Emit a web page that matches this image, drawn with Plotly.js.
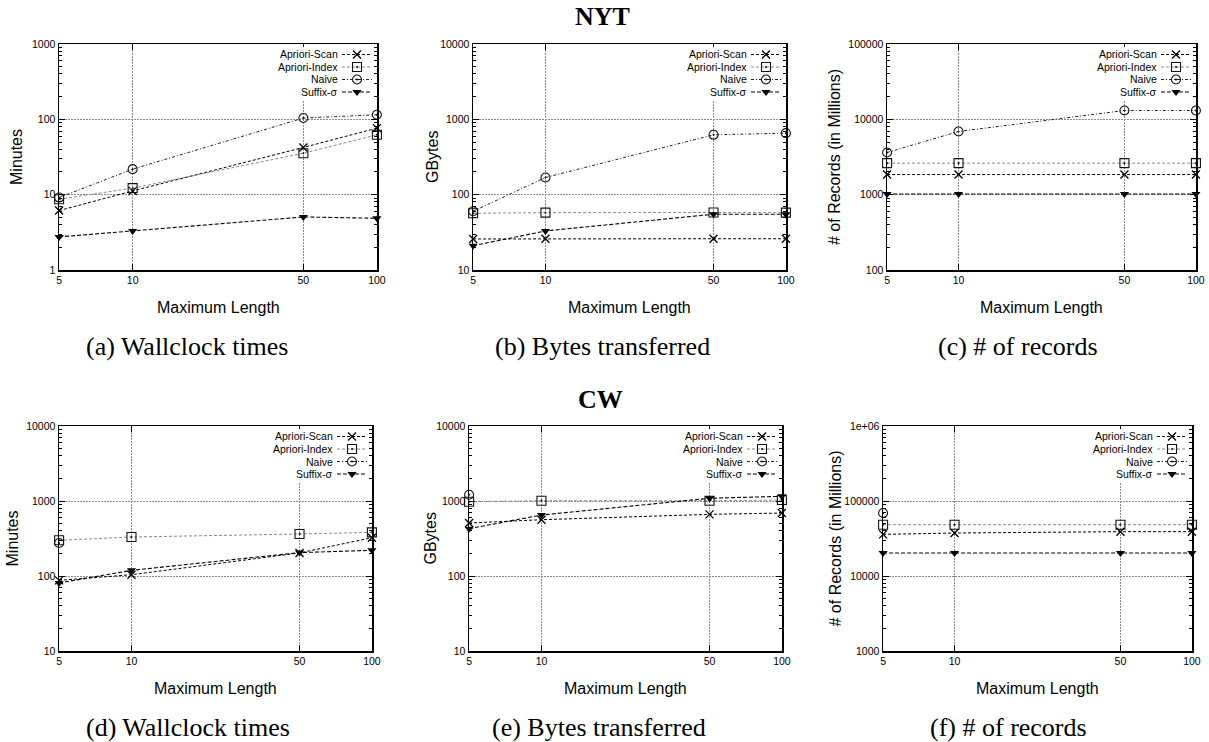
<!DOCTYPE html>
<html>
<head>
<meta charset="utf-8">
<script src="https://cdn.plot.ly/plotly-3.0.1.min.js"></script>
<style>
  html, body { margin: 0; padding: 0; background: #ffffff; overflow: hidden; }
  #chart { width: 1209px; height: 742px; overflow: hidden; }
</style>
</head>
<body>
<div id="chart"></div>
<script>
// ---------------- Data ----------------
const maxLengths = [5, 10, 50, 100];
const seriesNames = ['Apriori-Scan', 'Apriori-Index', 'Naive', 'Suffix-σ'];

// NYT - Wallclock times (minutes)
const nytMinScan   = [6.15, 11.2, 42.3, 76.4];
const nytMinIndex  = [8.7, 12.2, 35.5, 62.3];
const nytMinNaive  = [9.15, 21.8, 104, 115];
const nytMinSuffix = [2.75, 3.3, 5.06, 4.86];

// NYT - Bytes transferred (GBytes)
const nytGbScan   = [25.8, 26, 26, 26];
const nytGbIndex  = [56.6, 57.7, 58, 57.7];
const nytGbNaive  = [60.2, 169, 623, 656];
const nytGbSuffix = [21, 33, 55, 55];

// NYT - # of records (millions)
const nytRecScan   = [1850, 1850, 1850, 1850];
const nytRecIndex  = [2620, 2620, 2620, 2620];
const nytRecNaive  = [3630, 6900, 13100, 13100];
const nytRecSuffix = [1020, 1020, 1020, 1020];

// CW - Wallclock times (minutes)
const cwMinScan   = [87.5, 104, 203, 324];
const cwMinIndex  = [299, 331, 363, 382];
const cwMinNaive  = [275, null, null, null];
const cwMinSuffix = [80.7, 119, 205, 220];

// CW - Bytes transferred (GBytes)
const cwGbScan   = [509, 563, 664, 691];
const cwGbIndex  = [979, 1009, 1009, 1030];
const cwGbNaive  = [1213, null, null, null];
const cwGbSuffix = [428, 650, 1087, 1155];

// CW - # of records (millions)
const cwRecScan   = [35900, 37400, 39000, 39000];
const cwRecIndex  = [48300, 48300, 48300, 48300];
const cwRecNaive  = [69100, null, null, null];
const cwRecSuffix = [20300, 20300, 20300, 20300];

// Tick values / labels
const xTickLabels = ['5', '10', '50', '100'];
const yTicksA = [1, 10, 100, 1000];          const yLabelsA = ['1', '10', '100', '1000'];
const yTicksB = [10, 100, 1000, 10000];      const yLabelsB = ['10', '100', '1000', '10000'];
const yTicksC = [100, 1000, 10000, 100000];  const yLabelsC = ['100', '1000', '10000', '100000'];
const yTicksD = [10, 100, 1000, 10000];      const yLabelsD = ['10', '100', '1000', '10000'];
const yTicksE = [10, 100, 1000, 10000];      const yLabelsE = ['10', '100', '1000', '10000'];
const yTicksF = [1000, 10000, 100000, 1000000]; const yLabelsF = ['1000', '10000', '100000', '1e+06'];

const yTitles = ['Minutes', 'GBytes', '# of Records (in Millions)', 'Minutes', 'GBytes', '# of Records (in Millions)'];
const xTitle = 'Maximum Length';
const captions = ['(a) Wallclock times', '(b) Bytes transferred', '(c) # of records',
                  '(d) Wallclock times', '(e) Bytes transferred', '(f) # of records'];
const groupTitles = ['NYT', 'CW'];

// ---------------- Layout geometry (pixels) ----------------
const W = 1209, H = 742;
const px = p => p / W;
const py = p => 1 - p / H;

const panels = [
  { l: 59,  r: 377,  t: 44,  b: 270, ticks: yTicksA, labels: yLabelsA, data: [nytMinScan, nytMinIndex, nytMinNaive, nytMinSuffix], ytx: 17,  capx: 187 },
  { l: 473, r: 786,  t: 44,  b: 270, ticks: yTicksB, labels: yLabelsB, data: [nytGbScan, nytGbIndex, nytGbNaive, nytGbSuffix],     ytx: 433, capx: 602 },
  { l: 887, r: 1196, t: 44,  b: 270, ticks: yTicksC, labels: yLabelsC, data: [nytRecScan, nytRecIndex, nytRecNaive, nytRecSuffix], ytx: 835, capx: 1018 },
  { l: 59,  r: 372,  t: 426, b: 651, ticks: yTicksD, labels: yLabelsD, data: [cwMinScan, cwMinIndex, cwMinNaive, cwMinSuffix],     ytx: 12,  capx: 188 },
  { l: 469, r: 782,  t: 426, b: 651, ticks: yTicksE, labels: yLabelsE, data: [cwGbScan, cwGbIndex, cwGbNaive, cwGbSuffix],         ytx: 430, capx: 599 },
  { l: 883, r: 1192, t: 426, b: 651, ticks: yTicksF, labels: yLabelsF, data: [cwRecScan, cwRecIndex, cwRecNaive, cwRecSuffix],     ytx: 835, capx: 1008 }
];

const styles = [
  { line: { color: '#000000', width: 1, dash: '3px,2px' }, marker: { symbol: 'x-thin-open', size: 8, color: '#000000', line: { width: 1.3, color: '#000000' } } },
  { line: { color: '#8a8a8a', width: 1, dash: '3px,2px' }, marker: { symbol: 'square-open-dot', size: 9, color: '#111111', line: { width: 1.1, color: '#111111' } } },
  { line: { color: '#222222', width: 1, dash: '3px,2px,1px,2px' }, marker: { symbol: 'circle-open-dot', size: 9, color: '#111111', line: { width: 1.1, color: '#111111' } } },
  { line: { color: '#000000', width: 1.1, dash: '4px,2px' }, marker: { symbol: 'triangle-down', size: 8, color: '#000000', line: { width: 0 } } }
];

const sansFont = 'Liberation Sans, Arial, sans-serif';
const serifFont = 'Liberation Serif, Times New Roman, serif';

const traces = [];
const layout = {
  width: W, height: H,
  margin: { l: 0, r: 0, t: 0, b: 0 },
  paper_bgcolor: '#ffffff',
  plot_bgcolor: '#ffffff',
  showlegend: true,
  font: { family: sansFont, size: 10.5, color: '#000000' },
  annotations: [],
  shapes: []
};

const legendRowOffsets = [10.5, 23, 35.5, 48];
let legendCount = 0;

panels.forEach((p, i) => {
  const n = i + 1;
  const xa = n === 1 ? 'xaxis' : 'xaxis' + n;
  const ya = n === 1 ? 'yaxis' : 'yaxis' + n;
  const xr = n === 1 ? 'x' : 'x' + n;
  const yr = n === 1 ? 'y' : 'y' + n;

  layout[xa] = {
    type: 'log',
    domain: [px(p.l), px(p.r)],
    anchor: yr,
    range: [Math.log10(maxLengths[0]) - 0.0004, Math.log10(maxLengths[maxLengths.length - 1]) + 0.0004],
    tickvals: maxLengths,
    ticktext: xTickLabels,
    ticks: 'inside', ticklen: 6, tickwidth: 1, tickcolor: '#000000',
    showline: true, linecolor: '#000000', linewidth: 1.5, mirror: 'allticks',
    showgrid: true, gridcolor: '#8c8c8c', griddash: '1.5px,1.5px', gridwidth: 1,
    zeroline: false,
    tickfont: { family: sansFont, size: 10.5, color: '#000000' },
    fixedrange: true
  };
  layout[ya] = {
    type: 'log',
    domain: [py(p.b), py(p.t)],
    anchor: xr,
    range: [Math.log10(p.ticks[0]), Math.log10(p.ticks[p.ticks.length - 1])],
    tickvals: p.ticks,
    ticktext: p.labels,
    ticks: 'inside', ticklen: 6, tickwidth: 1, tickcolor: '#000000',
    minor: { ticks: 'inside', ticklen: 3, tickcolor: '#000000', dtick: 'D1', showgrid: false },
    showline: true, linecolor: '#000000', linewidth: 1.5, mirror: 'allticks',
    showgrid: true, gridcolor: '#8c8c8c', griddash: '1.5px,1.5px', gridwidth: 1,
    zeroline: false,
    tickfont: { family: sansFont, size: 10.5, color: '#000000' },
    fixedrange: true
  };

  // legend background box (covers grid like gnuplot key)
  layout.shapes.push({
    type: 'rect', xref: 'paper', yref: 'paper', layer: 'above',
    x0: px(p.r - 98), x1: px(p.r - 5), y0: py(p.t + 56), y1: py(p.t + 3),
    fillcolor: '#ffffff', line: { width: 0 }
  });

  p.data.forEach((vals, s) => {
    legendCount += 1;
    const lg = legendCount === 1 ? 'legend' : 'legend' + legendCount;
    traces.push({
      type: 'scatter', mode: 'lines+markers',
      x: maxLengths, y: vals,
      xaxis: xr, yaxis: yr,
      name: seriesNames[s],
      legend: lg,
      showlegend: true,
      cliponaxis: false,
      line: styles[s].line,
      marker: styles[s].marker,
      hovertemplate: seriesNames[s] + ': %{y}<extra></extra>'
    });
    // key: symbol only (label drawn right-aligned to its left, gnuplot style)
    layout[lg] = {
      orientation: 'h',
      x: px(p.r - 40), xanchor: 'left',
      y: py(p.t + legendRowOffsets[s]), yanchor: 'middle',
      bgcolor: 'rgba(0,0,0,0)', borderwidth: 0,
      itemwidth: 30,
      font: { family: sansFont, size: 1, color: 'rgba(0,0,0,0)' }
    };
    layout.annotations.push({
      text: seriesNames[s], xref: 'paper', yref: 'paper',
      x: px(p.r - 37), y: py(p.t + legendRowOffsets[s]), xanchor: 'right', yanchor: 'middle',
      showarrow: false,
      font: { family: sansFont, size: 10.5, color: '#000000' }
    });
  });

  // axis titles
  layout.annotations.push({
    text: yTitles[i], xref: 'paper', yref: 'paper',
    x: px(p.ytx), y: py((p.t + p.b) / 2), xanchor: 'center', yanchor: 'middle',
    textangle: -90, showarrow: false,
    font: { family: sansFont, size: 16, color: '#000000' }
  });
  layout.annotations.push({
    text: xTitle, xref: 'paper', yref: 'paper',
    x: px((p.l + p.r) / 2), y: py(p.b + 37), xanchor: 'center', yanchor: 'middle',
    showarrow: false,
    font: { family: sansFont, size: 16, color: '#000000' }
  });
  // captions
  layout.annotations.push({
    text: captions[i], xref: 'paper', yref: 'paper',
    x: px(p.capx), y: py(p.b + 76), xanchor: 'center', yanchor: 'middle',
    showarrow: false,
    font: { family: serifFont, size: 26, color: '#000000' }
  });
});

// group titles
layout.annotations.push({
  text: '<b>' + groupTitles[0] + '</b>', xref: 'paper', yref: 'paper',
  x: px(602), y: py(16), xanchor: 'center', yanchor: 'middle', showarrow: false,
  font: { family: serifFont, size: 26, color: '#000000' }
});
layout.annotations.push({
  text: '<b>' + groupTitles[1] + '</b>', xref: 'paper', yref: 'paper',
  x: px(600), y: py(400), xanchor: 'center', yanchor: 'middle', showarrow: false,
  font: { family: serifFont, size: 26, color: '#000000' }
});

Plotly.newPlot('chart', traces, layout, { displayModeBar: false, staticPlot: true });
</script>
</body>
</html>
